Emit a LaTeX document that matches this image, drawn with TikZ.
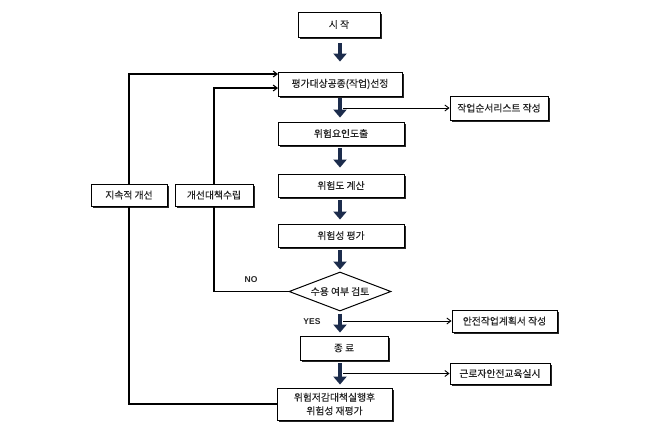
\documentclass[tikz,border=0pt]{standalone}
\usepackage{fontspec}
\setmainfont[FakeBold=0.4]{Noto Sans CJK KR}
\newfontfamily\latfont{Liberation Sans}
\usetikzlibrary{arrows.meta,shapes.geometric,shadows}
\definecolor{navy}{HTML}{1C2C4C}
\begin{document}
\begin{tikzpicture}[x=1pt,y=-1pt,
  box/.style={draw=black, line width=0.9pt, fill=white,
    drop shadow={shadow xshift=2.2pt,shadow yshift=-2.2pt,fill=black,opacity=0.85},
    font=\fontsize{9.8}{11.5}\selectfont, text=black!85, inner sep=1pt, align=center},
  blk/.style={line width=4.5pt, draw=navy, -{Triangle[length=8pt,width=13pt]}, shorten <=3pt},
  thinarr/.style={line width=0.9pt, -{Straight Barb[length=4pt,width=6pt]}},
  conn/.style={line width=1.1pt},
  lab/.style={font=\latfont\bfseries\fontsize{8.5}{10}\selectfont, text=black!85}]
\useasboundingbox[fill=white] (0,0) rectangle (659,429);

\node[box, minimum width=82pt, minimum height=25pt] (start) at (339,24.5) {시 작};
\node[box, minimum width=124pt, minimum height=24pt] (sel) at (340,84) {평가대상공종(작업)선정};
\node[box, minimum width=98pt, minimum height=24pt] (list) at (499,108) {작업순서리스트 작성};
\node[box, minimum width=126pt, minimum height=23pt] (risk) at (341,133.5) {위험요인도출};
\node[box, minimum width=126pt, minimum height=23pt] (calc) at (341,185.5) {위험도 계산};
\node[box, minimum width=126pt, minimum height=23pt] (eval) at (341,235.5) {위험성 평가};
\node[draw=black, line width=1pt, fill=white, diamond, aspect=2.6, inner sep=0pt,
  minimum width=102pt, minimum height=39pt, font=\fontsize{9.8}{11.5}\selectfont, text=black!85] (dia) at (340,291.5) {수용 여부 검토};
\node[box, minimum width=105pt, minimum height=22pt] (plan) at (504.5,321) {안전작업계획서 작성};
\node[box, minimum width=88pt, minimum height=24pt] (end) at (344,348) {종 료};
\node[box, minimum width=100pt, minimum height=21pt] (edu) at (500,373.5) {근로자안전교육실시};
\node[box, minimum width=115pt, minimum height=32pt] (reeval) at (334.5,404) {위험저감대책실행후\\[2pt]위험성 재평가};
\node[box, minimum width=76pt, minimum height=22pt] (cont) at (129,195) {지속적 개선};
\node[box, minimum width=78pt, minimum height=22pt] (fix) at (214,195) {개선대책수립};

% block arrows
\draw[blk, shorten <=6pt, shorten >=10pt] (start.south -| dia.north) -- (sel.north -| dia.north);
\draw[blk, shorten <=2pt, shorten >=4pt] (sel.south -| dia.north) -- (risk.north -| dia.north);
\draw[blk, shorten >=6pt] (risk.south -| dia.north) -- (calc.north -| dia.north);
\draw[blk, shorten >=4pt] (calc.south -| dia.north) -- (eval.north -| dia.north);
\draw[blk, shorten >=2pt] (eval.south -| dia.north) -- (dia.north);
\draw[blk, shorten <=2pt, shorten >=3pt] (dia.south) -- (end.north -| dia.south);
\draw[blk, shorten >=3pt] (end.south -| dia.south) -- (reeval.north -| dia.south);

% branches
\coordinate (b1) at (343,108);
\coordinate (b2) at (343,321);
\coordinate (b3) at (343,373.5);
\draw[thinarr] (b1) -- (list.west);
\draw[thinarr] (b2) -- (plan.west);
\draw[thinarr] (b3) -- (edu.west);

% feedback loops
\coordinate (in1) at (278,74);
\coordinate (in2) at (278,88);
\draw[conn] (reeval.west) -| (cont.south);
\draw[conn, -{Straight Barb[length=4pt,width=6pt]}] (cont.north) |- (in1);
\draw[conn] (dia.west) -| (fix.south);
\draw[conn, -{Straight Barb[length=4pt,width=6pt]}] (fix.north) |- (in2);

\node[lab] (no) at (251,280) {NO};
\node[lab] (yes) at (312,322) {YES};
\end{tikzpicture}
\end{document}
